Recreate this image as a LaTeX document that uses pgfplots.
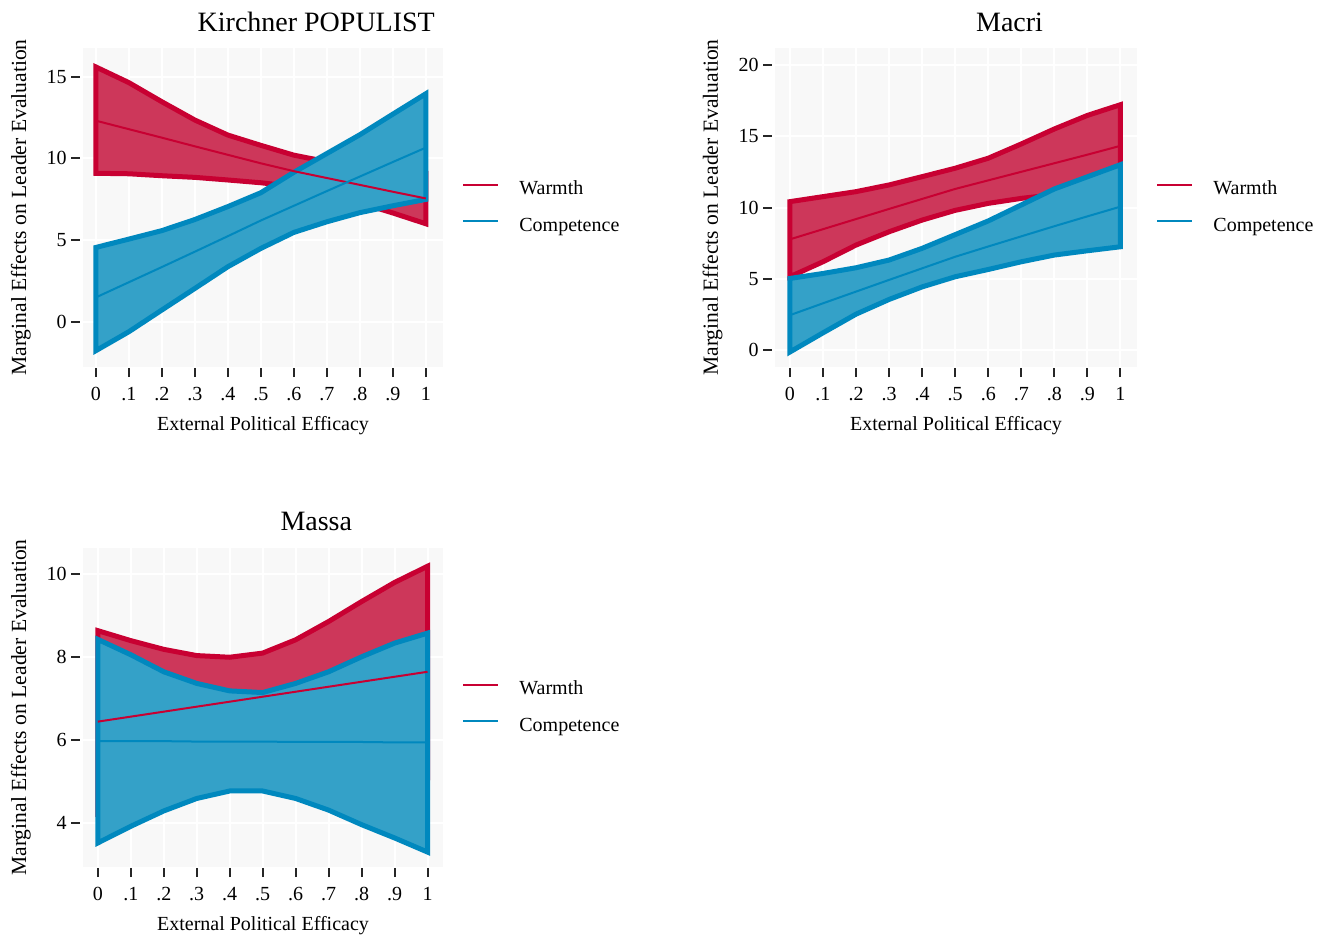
\documentclass[border=0pt]{standalone}
\usepackage{fontspec}
\setmainfont{Liberation Serif}
\usepackage{pgfplots}
\pgfplotsset{compat=1.18}

\definecolor{wedge}{RGB}{200,0,50}
\definecolor{wfill}{RGB}{205,55,90}
\definecolor{cedge}{RGB}{0,136,190}
\definecolor{cfill}{RGB}{52,161,200}
\definecolor{plotbg}{RGB}{248,248,248}

\pgfplotsset{
  effpanel/.style={
    scale only axis, width=180pt, height=159.5pt,
    axis background/.style={fill=plotbg},
    axis line style={draw=none},
    grid=major, grid style={white, line width=1pt},
    tick align=inside, major tick length=4.5pt,
    tick pos=left,
    tick style={black!85, line width=1pt},
    x tick style={yshift=-5pt},
    y tick style={xshift=-6pt},
    xtick={0,0.1,0.2,0.3,0.4,0.5,0.6,0.7,0.8,0.9,1},
    xticklabels={0,.1,.2,.3,.4,.5,.6,.7,.8,.9,1},
    /pgf/number format/assume math mode=true,
    yticklabel style={anchor=east, inner sep=0pt, xshift=-8pt},
    xticklabel style={anchor=north, inner sep=0pt, yshift=-10pt},
    xlabel={External Political Efficacy},
    ylabel={Marginal Effects on Leader Evaluation},
    xlabel style={at={(axis description cs:0.5,0)}, anchor=base, yshift=-31.5pt},
    ylabel style={at={(axis description cs:-0.158,0.5)}, anchor=base, font=\fontsize{10.8}{13}\selectfont},
    title style={at={(axis description cs:0.648,1)}, anchor=base, yshift=2.5pt, font=\fontsize{14}{16}\selectfont},
    legend style={at={(1,0.5)}, anchor=west, xshift=9.5pt, draw=none, fill=none,
      inner sep=0pt, row sep=10pt, column sep=10pt, nodes={inner sep=0pt}},
    legend cell align=left,
    legend image code/.code={\draw[##1] (0pt,2.3pt) -- (17.5pt,2.3pt);},
  },
  band/.style={line width=2.5pt, forget plot},
  wband/.style={band, fill=wfill, draw=wedge},
  cband/.style={band, fill=cfill, draw=cedge},
  wmean/.style={wedge, line width=1pt, forget plot},
  cmean/.style={cedge, line width=1pt, forget plot},
}

\begin{document}
\begin{tikzpicture}
\path[use as bounding box] (0,0) rectangle (662.5pt,469.5pt);

% Kirchner
\begin{axis}[effpanel, at={(41.5pt,286pt)}, anchor=south west,
  title={Kirchner POPULIST},
  xmin=-0.039, xmax=1.052, ymin=-2.77, ymax=16.76, ytick={0,5,10,15}]
\addplot[wband] coordinates {(0,15.6)(0.1,14.64)(0.2,13.47)(0.3,12.35)(0.4,11.43)(0.5,10.8)(0.6,10.2)(0.7,9.8)(0.8,9.5)(0.9,9.28)(1,9.1)
  (1,6.0)(0.9,6.66)(0.8,7.28)(0.7,7.85)(0.6,8.28)(0.5,8.51)(0.4,8.68)(0.3,8.84)(0.2,8.94)(0.1,9.06)(0,9.09)} -- cycle;
\addplot[cband] coordinates {(0,4.55)(0.1,5.06)(0.2,5.58)(0.3,6.26)(0.4,7.05)(0.5,7.9)(0.6,9.15)(0.7,10.3)(0.8,11.45)(0.9,12.71)(1,13.96)
  (1,7.49)(0.9,7.1)(0.8,6.68)(0.7,6.12)(0.6,5.47)(0.5,4.49)(0.4,3.37)(0.3,2.04)(0.2,0.72)(0.1,-0.61)(0,-1.77)} -- cycle;
\addplot[wmean] coordinates {(0,12.31)(0.1,11.79)(0.2,11.27)(0.3,10.74)(0.4,10.22)(0.5,9.70)(0.6,9.22)(0.7,8.8)(0.8,8.38)(0.9,7.96)(1,7.55)};
\addplot[cmean] coordinates {(0,1.49)(0.1,2.42)(0.2,3.35)(0.3,4.29)(0.4,5.24)(0.5,6.2)(0.6,7.1)(0.7,8.0)(0.8,8.89)(0.9,9.78)(1,10.66)};
\addlegendimage{wedge, line width=1pt}\addlegendentry{Warmth}
\addlegendimage{cedge, line width=1pt}\addlegendentry{Competence}
\end{axis}

% Macri
\begin{axis}[effpanel, width=181pt, at={(387.5pt,286pt)}, anchor=south west,
  title={Macri},
  xmin=-0.045, xmax=1.05, ymin=-1.17, ymax=21.17, ytick={0,5,10,15,20}]
\addplot[wband] coordinates {(0,10.41)(0.1,10.76)(0.2,11.11)(0.3,11.58)(0.4,12.16)(0.5,12.75)(0.6,13.45)(0.7,14.45)(0.8,15.5)(0.9,16.45)(1,17.2)
  (1,11.44)(0.9,11.1)(0.8,10.9)(0.7,10.64)(0.6,10.29)(0.5,9.8)(0.4,9.12)(0.3,8.3)(0.2,7.37)(0.1,6.2)(0,5.15)} -- cycle;
\addplot[cband] coordinates {(0,5.03)(0.1,5.38)(0.2,5.78)(0.3,6.32)(0.4,7.14)(0.5,8.1)(0.6,9.06)(0.7,10.18)(0.8,11.3)(0.9,12.15)(1,13.0)
  (1,7.25)(0.9,6.97)(0.8,6.67)(0.7,6.2)(0.6,5.66)(0.5,5.15)(0.4,4.44)(0.3,3.56)(0.2,2.53)(0.1,1.22)(0,-0.12)} -- cycle;
\addplot[wmean] coordinates {(0,7.77)(0.1,8.48)(0.2,9.19)(0.3,9.9)(0.4,10.6)(0.5,11.3)(0.6,11.9)(0.7,12.5)(0.8,13.1)(0.9,13.7)(1,14.32)};
\addplot[cmean] coordinates {(0,2.46)(0.1,3.29)(0.2,4.11)(0.3,4.93)(0.4,5.74)(0.5,6.55)(0.6,7.27)(0.7,7.98)(0.8,8.69)(0.9,9.38)(1,10.06)};
\addlegendimage{wedge, line width=1pt}\addlegendentry{Warmth}
\addlegendimage{cedge, line width=1pt}\addlegendentry{Competence}
\end{axis}

% Massa
\begin{axis}[effpanel, at={(41.5pt,36pt)}, anchor=south west,
  title={Massa},
  xmin=-0.045, xmax=1.047, ymin=2.94, ymax=10.62, ytick={4,6,8,10}]
\addplot[wband] coordinates {(0,8.63)(0.1,8.39)(0.2,8.18)(0.3,8.03)(0.4,7.99)(0.5,8.09)(0.6,8.41)(0.7,8.85)(0.8,9.33)(0.9,9.79)(1,10.18)
  (1,5.1)(0.9,5.25)(0.8,5.47)(0.7,5.71)(0.6,5.91)(0.5,5.99)(0.4,5.85)(0.3,5.57)(0.2,5.18)(0.1,4.73)(0,4.25)} -- cycle;
\addplot[cband] coordinates {(0,8.42)(0.1,8.05)(0.2,7.64)(0.3,7.36)(0.4,7.18)(0.5,7.14)(0.6,7.36)(0.7,7.64)(0.8,8.0)(0.9,8.33)(1,8.57)
  (1,3.3)(0.9,3.64)(0.8,3.96)(0.7,4.31)(0.6,4.59)(0.5,4.77)(0.4,4.77)(0.3,4.59)(0.2,4.29)(0.1,3.92)(0,3.52)} -- cycle;
\addplot[wmean] coordinates {(0,6.44)(0.1,6.56)(0.2,6.68)(0.3,6.8)(0.4,6.92)(0.5,7.04)(0.6,7.16)(0.7,7.28)(0.8,7.4)(0.9,7.52)(1,7.64)};
\addplot[cmean] coordinates {(0,5.97)(0.1,5.97)(0.2,5.97)(0.3,5.96)(0.4,5.96)(0.5,5.96)(0.6,5.95)(0.7,5.95)(0.8,5.95)(0.9,5.94)(1,5.94)};
\addlegendimage{wedge, line width=1pt}\addlegendentry{Warmth}
\addlegendimage{cedge, line width=1pt}\addlegendentry{Competence}
\end{axis}
\end{tikzpicture}
\end{document}
